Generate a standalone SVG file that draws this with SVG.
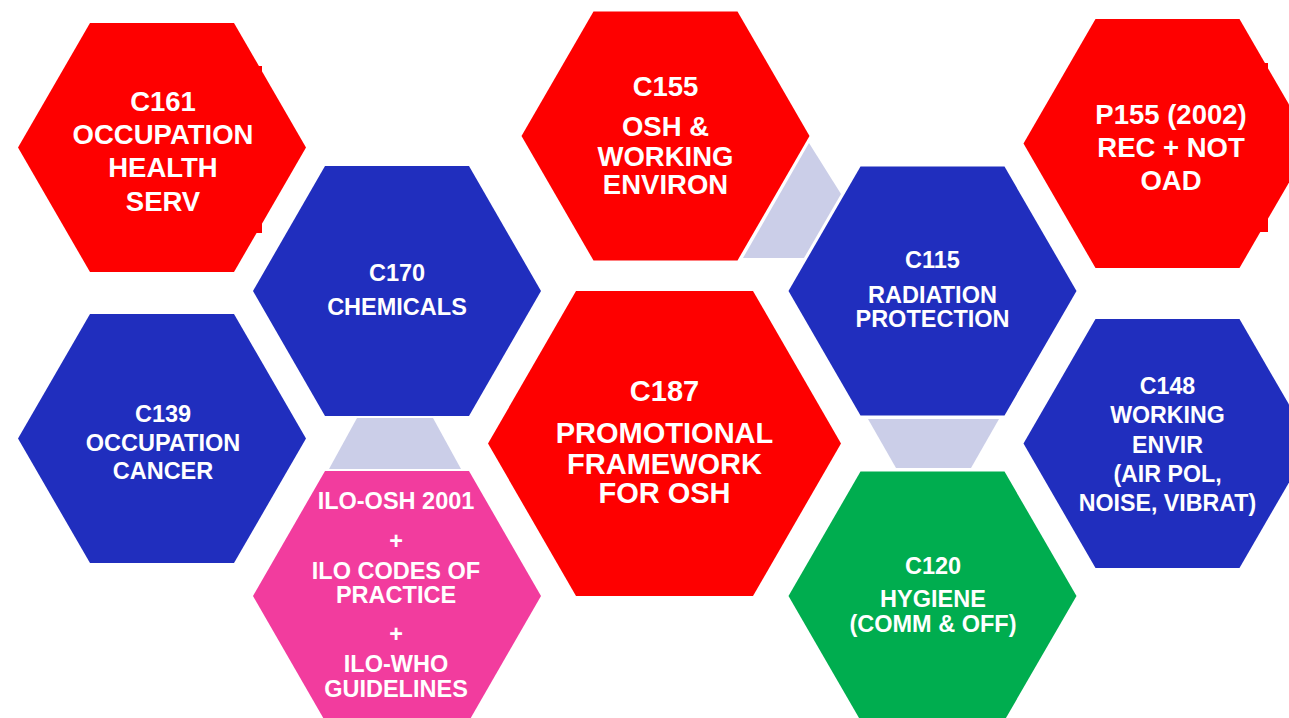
<svg xmlns="http://www.w3.org/2000/svg" width="1289" height="718" viewBox="0 0 1289 718">
  <style>
    .red { fill: #fe0000; }
    .blue { fill: #202ebe; }
    .pink { fill: #f23c9e; }
    .green { fill: #00ad4f; }
    .link { fill: #cbcee8; }
    text { font-family: "Liberation Sans", Arial, sans-serif; font-weight: bold; fill: #ffffff; text-anchor: middle; }
  </style>
  <rect width="1289" height="718" fill="#ffffff"/>

  <!-- light connecting bands between neighbouring cells -->
  <g id="connectors">
    <polygon class="link" points="809,143 841,194 804,258 743,258"/>
    <polygon class="link" points="357,418 433,418 461,469 329,469"/>
    <polygon class="link" points="868,419 999,419 971,468 896,468"/>
  </g>

  <g id="c161">
    <rect class="red" x="200" y="66" width="62" height="167"/>
    <polygon class="red" points="18,147.5 90,23 234,23 306,147.5 234,272 90,272"/>
    <text font-size="27.5"><tspan x="163" y="111">C161</tspan><tspan x="163" y="144">OCCUPATION</tspan><tspan x="163" y="177">HEALTH</tspan><tspan x="163" y="211">SERV</tspan></text>
  </g>

  <g id="c139">
    <polygon class="blue" points="18,438.5 90,314 234,314 306,438.5 234,563 90,563"/>
    <text font-size="23.5"><tspan x="163" y="422">C139</tspan><tspan x="163" y="451">OCCUPATION</tspan><tspan x="163" y="479">CANCER</tspan></text>
  </g>

  <g id="c170">
    <polygon class="blue" points="253,291 325,166 469,166 541,291 469,416 325,416"/>
    <text font-size="23.5"><tspan x="397" y="281">C170</tspan><tspan x="397" y="315">CHEMICALS</tspan></text>
  </g>

  <g id="ilo">
    <polygon class="pink" points="253,596 325,471 469,471 541,596 469,721 325,721"/>
    <text font-size="23.5"><tspan x="396" y="509">ILO-OSH 2001</tspan><tspan x="396" y="549">+</tspan><tspan x="396" y="579">ILO CODES OF</tspan><tspan x="396" y="603">PRACTICE</tspan><tspan x="396" y="642">+</tspan><tspan x="396" y="672">ILO-WHO</tspan><tspan x="396" y="697">GUIDELINES</tspan></text>
  </g>

  <g id="c155">
    <polygon class="red" points="521.5,136 593.5,11.5 737.5,11.5 809.5,136 737.5,260.5 593.5,260.5"/>
    <text font-size="27.5"><tspan x="665.5" y="96">C155</tspan><tspan x="665.5" y="136">OSH &amp;</tspan><tspan x="665.5" y="166">WORKING</tspan><tspan x="665.5" y="194">ENVIRON</tspan></text>
  </g>

  <g id="c187">
    <polygon class="red" points="488,443.5 576,291 753,291 841,443.5 753,596 576,596"/>
    <text font-size="29"><tspan x="664.5" y="401">C187</tspan><tspan x="664.5" y="443">PROMOTIONAL</tspan><tspan x="664.5" y="474">FRAMEWORK</tspan><tspan x="664.5" y="503">FOR OSH</tspan></text>
  </g>

  <g id="c115">
    <polygon class="blue" points="788.5,291 860.5,166.5 1004.5,166.5 1076.5,291 1004.5,415.5 860.5,415.5"/>
    <text font-size="23.5"><tspan x="932.5" y="268">C115</tspan><tspan x="932.5" y="303">RADIATION</tspan><tspan x="932.5" y="327">PROTECTION</tspan></text>
  </g>

  <g id="c120">
    <polygon class="green" points="788.5,596 860.5,471.5 1004.5,471.5 1076.5,596 1004.5,720.5 860.5,720.5"/>
    <text font-size="23.5"><tspan x="933" y="574">C120</tspan><tspan x="933" y="607">HYGIENE</tspan><tspan x="933" y="632">(COMM &amp; OFF)</tspan></text>
  </g>

  <g id="p155">
    <rect class="red" x="1200" y="63" width="68" height="169"/>
    <polygon class="red" points="1023.5,143.5 1095.5,19 1239.5,19 1311.5,143.5 1239.5,268 1095.5,268"/>
    <text font-size="27.5"><tspan x="1171" y="124">P155 (2002)</tspan><tspan x="1171" y="157">REC + NOT</tspan><tspan x="1171" y="190">OAD</tspan></text>
  </g>

  <g id="c148">
    <polygon class="blue" points="1023.5,443.5 1095.5,319 1239.5,319 1311.5,443.5 1239.5,568 1095.5,568"/>
    <text font-size="23.2"><tspan x="1167.5" y="394">C148</tspan><tspan x="1167.5" y="423">WORKING</tspan><tspan x="1167.5" y="453">ENVIR</tspan><tspan x="1167.5" y="482">(AIR POL,</tspan><tspan x="1167.5" y="511">NOISE, VIBRAT)</tspan></text>
  </g>
</svg>
